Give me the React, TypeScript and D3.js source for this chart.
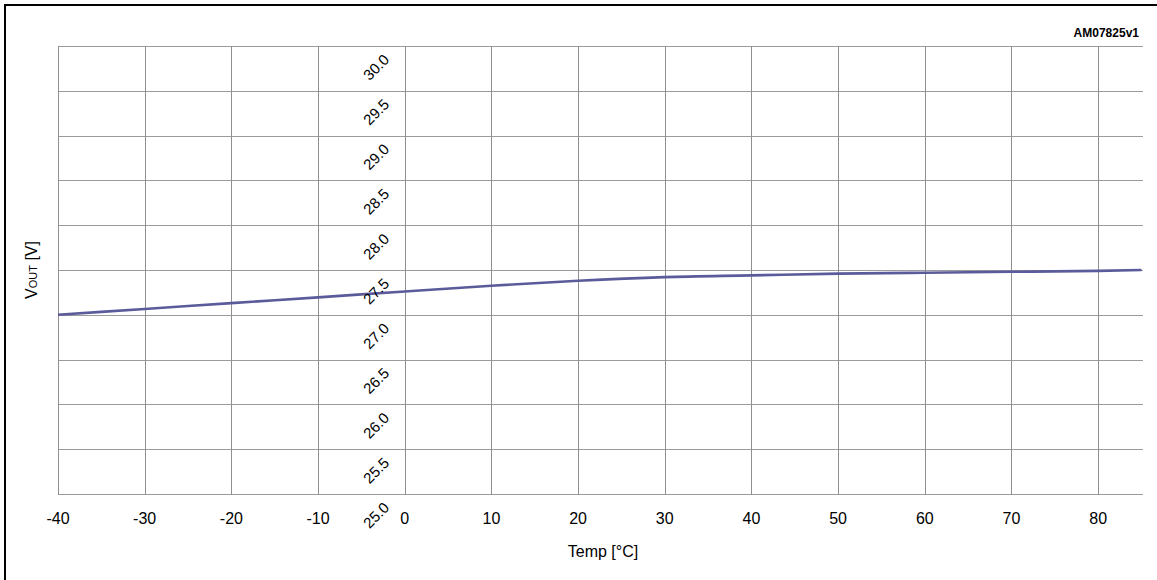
import React from "react";
import * as d3 from "d3";

const temps = [-40, -30, -20, -10, 0, 10, 20, 30, 40, 50, 60, 70, 80, 85];
const vout = [27.0, 27.065, 27.13, 27.195, 27.26, 27.325, 27.38, 27.42, 27.44, 27.46, 27.47, 27.48, 27.49, 27.5];
const xTicks = [-40, -30, -20, -10, 0, 10, 20, 30, 40, 50, 60, 70, 80];
const yTicks = [25.0, 25.5, 26.0, 26.5, 27.0, 27.5, 28.0, 28.5, 29.0, 29.5, 30.0];

const W = 1157;
const H = 580;
const FONT = "'Liberation Sans', Arial, Helvetica, sans-serif";

export default function App() {
  const x = d3.scaleLinear().domain([-40, 85]).range([58, 1141.5]);
  const y = d3.scaleLinear().domain([25, 30]).range([494, 46]);
  const pts = temps.map((t, i) => [t, vout[i]] as [number, number]);
  const line = d3
    .line<[number, number]>()
    .x((d) => x(d[0]))
    .y((d) => y(d[1]))
    .curve(d3.curveMonotoneX);

  return (
    <div style={{ position: "absolute", left: 0, top: 0, width: W, height: H, background: "#fff" }}>
      <svg width={W} height={H} style={{ display: "block" }} fontFamily={FONT}>
        <rect x={0} y={0} width={W} height={H} fill="#fff" />
        <rect x={5} y={5} width={W + 20} height={H + 20} fill="none" stroke="#000" strokeWidth={2} />
        {yTicks.map((v) => (
          <line
            key={"h" + v}
            x1={x(-40)}
            x2={x(85) + 1.5}
            y1={Math.round(y(v)) + 0.5}
            y2={Math.round(y(v)) + 0.5}
            stroke="#9a9a9a"
            strokeWidth={1}
          />
        ))}
        {xTicks.map((v) => (
          <line
            key={"v" + v}
            x1={Math.round(x(v)) + 0.5}
            x2={Math.round(x(v)) + 0.5}
            y1={y(30)}
            y2={y(25) + 1}
            stroke="#8f8f8f"
            strokeWidth={1}
          />
        ))}
        <path d={line(pts) || ""} fill="none" stroke="#5b5b9b" strokeWidth={2.6} />
        {yTicks.map((v) => (
          <text
            key={"yl" + v}
            transform={`translate(376,${y(v) + 21}) rotate(-45)`}
            textAnchor="middle"
            dominantBaseline="central"
            fontSize={15}
            fill="#000"
          >
            {v.toFixed(1)}
          </text>
        ))}
        {xTicks.map((v) => (
          <text key={"xl" + v} x={x(v)} y={524} textAnchor="middle" fontSize={16} fill="#000">
            {v}
          </text>
        ))}
        <text x={603} y={557} textAnchor="middle" fontSize={16} fill="#000">
          Temp [°C]
        </text>
        <text transform="translate(37,270) rotate(-90)" textAnchor="middle" fontSize={16} fill="#000">
          <tspan>V</tspan>
          <tspan fontSize={11}>OUT</tspan>
          <tspan> [V]</tspan>
        </text>
        <text x={1139} y={37} textAnchor="end" fontSize={12} fontWeight="bold" fill="#000">
          AM07825v1
        </text>
      </svg>
    </div>
  );
}
